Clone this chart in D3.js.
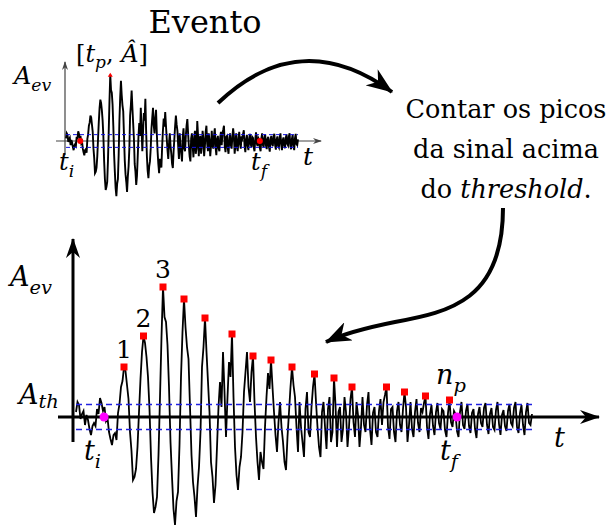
<!DOCTYPE html>
<html>
<head>
<meta charset="utf-8">
<script src="https://cdn.jsdelivr.net/npm/d3@7"></script>
<style>
body { margin:0; background:#fff; }
svg { display:block; }
.math { font-style: italic; }
</style>
</head>
<body>
<svg class="myChart" width="616" height="529"></svg>
<script>
// event signal, one sample per time step (amplitude, arbitrary units)
const signal = [
 0.5, 1.5, 1.2, -0.2, 0.3, 0.6, -0.8, 0.2, -0.3, -1.2,
 -1.8, -0.9, -0.6, -0.9, 0.8, 0.3, 1.9, 1.4, 0.6, 1.0,
 -0.4, -0.1, -1.5, -2.2, -2.8, -1.8, -1.6, -2.3, 0.4, 1.3,
 3.0, 3.6, 5.0, 4.6, 3.2, 1.8, -1.5, -3.4, -6.3, -6.0,
 -5.2, -3.0, 0.5, 3.8, 6.5, 8.1, 7.4, 6.0, 4.0, 0.8,
 -4.0, -7.5, -9.6, -9.0, -8.0, -3.8, 2.0, 8.0, 13.0, 10.0,
 9.5, 7.2, 3.0, -2.5, -6.0, -9.2, -10.8, -8.4, -7.5, -2.8,
 4.0, 8.5, 11.8, 9.0, 7.0, 5.8, 1.0, -3.8, -6.5, -8.0,
 -10.0, -7.0, -5.0, -1.5, 5.0, 7.0, 9.9, 6.5, 3.5, 0.5,
 -4.5, -6.0, -8.6, -6.8, -3.0, 1.0, 3.5, 1.0, 6.5, 2.5,
 -2.0, 2.0, 5.5, 4.0, 8.3, 2.0, -3.0, -5.8, -7.3, -5.0,
 -4.0, -1.5, 2.5, 4.5, 6.5, 3.0, 1.5, 4.5, 6.1, 1.5,
 -2.0, -4.5, -6.3, -3.5, -4.5, -5.2, -1.0, 2.0, 4.4, 2.8,
 5.7, 3.0, 0.5, -1.8, -3.5, -0.5, 1.5, -1.0, -2.5, -4.5,
 -5.3, -2.0, 0.5, 3.0, 5.0, 3.2,
 2.0, -1.0, -3.5, 1.5, -1.0, -2.5, -4.0, 0.8, 2.5, -1.5,
 -2.0, 1.0, 3.0, 4.3, 1.5, -1.0, -3.0, -4.0, 0.5, 1.5,
 -1.0, -3.2, 0.8, 2.0, -2.5, -1.5, 3.9, 1.2, -3.0, 0.5,
 1.0, -2.5, -1.2, 2.0, 0.5, -3.0, -1.0, 1.8, 3.0, -0.5,
 -2.0, 1.5, 0.2, -3.0, -1.0, 2.0, -0.8, -1.5, 1.2, 2.5,
 -1.2, -2.8, 0.4, 1.0, -1.5, -2.0, 0.6, 1.8, -0.8, 1.5,
 2.2, 3.0, -1.0, -2.2, 0.8, 1.0, -1.5, -2.5, 0.6, 1.5,
 -0.8, -1.5, 0.8, 2.5, 1.0, -2.5, -0.8, 1.5, -1.2, -2.0,
 0.5, 1.8, -0.6, -1.5, 0.9, 0.5, 1.4, 2.1, -1.0, -2.2,
 0.3, 1.2, -0.9, -1.8, 0.5, 1.4, -0.6, -1.2, 0.8, 0.6,
 -1.3, -2.0, 0.4, 1.7, -0.5, -1.0, 0.6, 0.3, -1.4, -2.0,
 0.5, 1.5, -0.8, -1.2, 0.6, 1.3, -0.9, -1.6, 0.4, 0.8,
 -1.2, -2.1, 0.3, 1.0, -0.6, -1.0, 0.9, 1.4, -0.8, -1.7,
 0.3, 0.9, -1.0, -1.3, 0.7, 1.5, -0.7, -1.8, 0.2, 0.7,
 -0.9, -1.4, 0.6, 1.3, -0.6, -0.9, 0.9, 1.5, -1.0, -1.6,
 0.4, 1.2, -0.8, -1.8, 0.5, 1.4, -0.6, -0.8, 0.3
];

// counted peaks above threshold (sample index, amplitude)
const peakT = [32, 45, 58, 72, 86, 104, 118, 130, 144, 159, 172, 184, 207, 219, 233, 249];
const peakA = [5.0, 8.1, 13.0, 11.8, 9.9, 8.3, 6.1, 5.7, 5.0, 4.3, 3.9, 3.0, 3.0, 2.5, 2.1, 1.7];
const peakLabels = ["1", "2", "3"];

const threshold = 1.25;
const tStart = 18.7;  // t_i
const tEnd = 254;     // t_f
const tMax = 58;      // t_p
const aMax = 13.0;    // A hat

const serif = 'DejaVu Serif';

const svg = d3.select('svg.myChart')
  .attr('font-family', serif)
  .style('font-family', serif);

const defs = svg.append('defs');
const mkArrow = (id, w, h, color) => {
  defs.append('marker')
    .attr('id', id)
    .attr('viewBox', `0 0 ${w} ${h}`)
    .attr('refX', w - 1).attr('refY', h / 2)
    .attr('markerWidth', w).attr('markerHeight', h)
    .attr('markerUnits', 'userSpaceOnUse')
    .attr('orient', 'auto')
    .append('path')
    .attr('d', `M0,0 L${w},${h/2} L0,${h} L${w*0.3},${h/2} Z`)
    .attr('fill', color);
};
mkArrow('axBig', 20, 14, '#000');
mkArrow('axSmall', 9, 6, '#444');
mkArrow('flow', 26, 20, '#000');

const line = (x, y) => d3.line().x((d, i) => x(i)).y(d => y(d));

// ---------- small chart (top) ----------
const xs = d3.scaleLinear().domain([0, signal.length - 1]).range([66, 298]);
const ys = d3.scaleLinear().domain([-3, 15]).range([141 + 3 * 5.1, 141 - 15 * 5.1]);

const gs = svg.append('g');
gs.append('line').attr('x1', 56).attr('x2', 321).attr('y1', ys(0)).attr('y2', ys(0))
  .attr('stroke', '#444').attr('stroke-width', 1.2).attr('marker-end', 'url(#axSmall)');
gs.append('line').attr('x1', xs(0) - 1).attr('x2', xs(0) - 1).attr('y1', 155).attr('y2', 62)
  .attr('stroke', '#444').attr('stroke-width', 1.2).attr('marker-end', 'url(#axSmall)');

gs.append('path').datum(signal)
  .attr('d', line(xs, ys))
  .attr('fill', 'none').attr('stroke', '#000').attr('stroke-width', 1.9);

[threshold, -threshold].forEach(v => {
  gs.append('line').attr('x1', xs(0)).attr('x2', xs(signal.length - 1))
    .attr('y1', ys(v)).attr('y2', ys(v))
    .attr('stroke', '#1010e0').attr('stroke-width', 1).attr('stroke-dasharray', '4,3');
});

gs.selectAll('circle.ev').data([tStart, tEnd]).enter().append('circle')
  .attr('cx', d => xs(d)).attr('cy', ys(0)).attr('r', 3).attr('fill', '#f00');
gs.append('path')
  .attr('d', `M${xs(tMax) - 2.5},${ys(aMax) + 2} L${xs(tMax) + 2.5},${ys(aMax) + 2} L${xs(tMax)},${ys(aMax) - 2} Z`)
  .attr('fill', '#f00');

const tsub = (g, x, y, main, sub, size, drop = 0.3) => {
  const t = g.append('text').attr('x', x).attr('y', y).attr('font-size', size).attr('class', 'math');
  t.append('tspan').text(main);
  t.append('tspan').attr('dy', size * drop).attr('font-size', size * 0.72).text(sub);
  return t;
};
tsub(gs, 14, 84, 'A', 'ev', 24);
tsub(gs, 59, 170, 't', 'i', 24);
tsub(gs, 251, 170, 't', 'f', 24);
gs.append('text').attr('x', 303).attr('y', 165).attr('font-size', 25).attr('class', 'math').text('t');
const tp = gs.append('text').attr('x', 76).attr('y', 62).attr('font-size', 24);
tp.append('tspan').text('[');
tp.append('tspan').attr('class', 'math').text('t');
tp.append('tspan').attr('class', 'math').attr('dy', 6).attr('font-size', 17).text('p');
tp.append('tspan').attr('dy', -6).text(', ');
tp.append('tspan').attr('class', 'math').text('Â');
tp.append('tspan').text(']');

svg.append('text').attr('x', 205).attr('y', 33).attr('text-anchor', 'middle')
  .attr('font-size', 32).text('Evento');

// ---------- text block ----------
const note = svg.append('text').attr('text-anchor', 'middle').attr('font-size', 25.5);
note.append('tspan').attr('x', 506).attr('y', 118).text('Contar os picos');
note.append('tspan').attr('x', 506).attr('y', 158).text('da sinal acima');
const l3 = note.append('tspan').attr('x', 506).attr('y', 198);
l3.append('tspan').text('do ');
l3.append('tspan').attr('class', 'math').text('threshold');
l3.append('tspan').text('.');

// ---------- flow arrows ----------
svg.append('path').attr('d', 'M218,103 Q300,25 392,92')
  .attr('fill', 'none').attr('stroke', '#000').attr('stroke-width', 4)
  .attr('marker-end', 'url(#flow)');
svg.append('path').attr('d', 'M503,208 C503,300 450,312 395,322 C365,328 345,333 326,342')
  .attr('fill', 'none').attr('stroke', '#000').attr('stroke-width', 4)
  .attr('marker-end', 'url(#flow)');

// ---------- main chart (bottom) ----------
const xb = d3.scaleLinear().domain([0, signal.length - 1]).range([76, 532]);
const yb = d3.scaleLinear().domain([-12, 14]).range([417 + 120, 417 - 140]);

const gb = svg.append('g');
gb.append('line').attr('x1', 58).attr('x2', 599).attr('y1', yb(0)).attr('y2', yb(0))
  .attr('stroke', '#000').attr('stroke-width', 3).attr('marker-end', 'url(#axBig)');
gb.append('line').attr('x1', 73).attr('x2', 73).attr('y1', 442).attr('y2', 239)
  .attr('stroke', '#000').attr('stroke-width', 3).attr('marker-end', 'url(#axBig)');

gb.append('path').datum(signal)
  .attr('d', line(xb, yb))
  .attr('fill', 'none').attr('stroke', '#000').attr('stroke-width', 1.8);

[threshold, -threshold].forEach(v => {
  gb.append('line').attr('x1', xb(0)).attr('x2', xb(signal.length - 1))
    .attr('y1', yb(v)).attr('y2', yb(v))
    .attr('stroke', '#2020e0').attr('stroke-width', 1.3).attr('stroke-dasharray', '6,4');
});

gb.selectAll('rect.pk').data(peakT).enter().append('rect')
  .attr('class', 'pk')
  .attr('x', d => xb(d) - 3.5)
  .attr('y', (d, i) => yb(peakA[i]) - 3.5)
  .attr('width', 7).attr('height', 7).attr('fill', '#f00');

gb.selectAll('text.pl').data(peakLabels).enter().append('text')
  .attr('class', 'pl')
  .attr('x', (d, i) => xb(peakT[i]))
  .attr('y', (d, i) => yb(peakA[i]) - 9)
  .attr('text-anchor', 'middle').attr('font-size', 25).text(d => d);

gb.selectAll('circle.ev').data([tStart, tEnd]).enter().append('circle')
  .attr('cx', d => xb(d)).attr('cy', yb(0)).attr('r', 4.5).attr('fill', '#f0f');

tsub(gb, 10, 286, 'A', 'ev', 27);
tsub(gb, 19, 404, 'A', 'th', 27, 0.15);
tsub(gb, 84, 460, 't', 'i', 27);
tsub(gb, 440, 460, 't', 'f', 27);
tsub(gb, 436, 384, 'n', 'p', 27);
gb.append('text').attr('x', 554).attr('y', 447).attr('font-size', 27).attr('class', 'math').text('t');
</script>
</body>
</html>
